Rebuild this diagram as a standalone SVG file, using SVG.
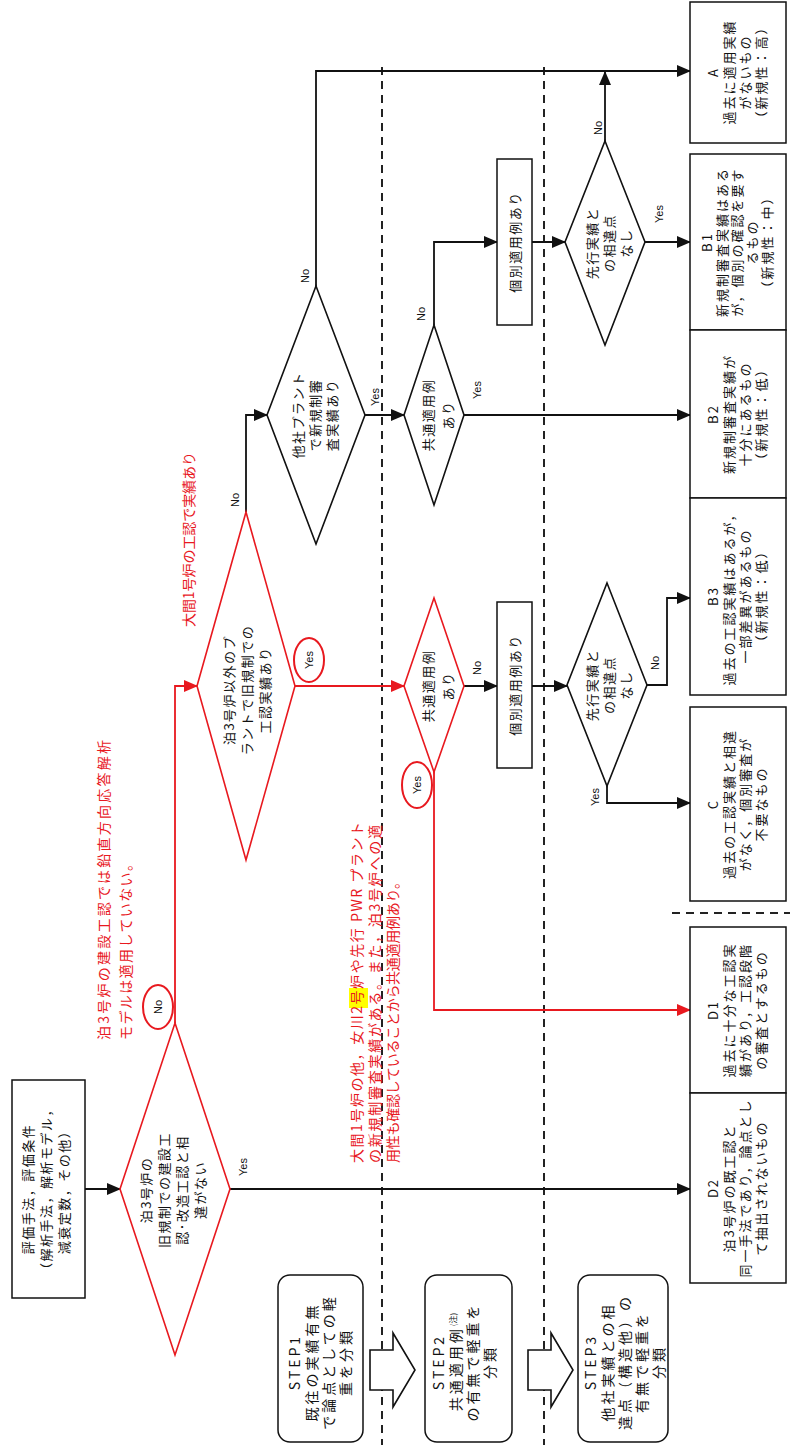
<svg xmlns="http://www.w3.org/2000/svg" width="790" height="1445" viewBox="0 0 790 1445">
<defs>
<marker id="ab" markerWidth="14" markerHeight="12" refX="13" refY="6" orient="auto" markerUnits="userSpaceOnUse"><path d="M0,0 L14,6 L0,12 z" fill="#111"/></marker>
<marker id="ar" markerWidth="14" markerHeight="12" refX="13" refY="6" orient="auto" markerUnits="userSpaceOnUse"><path d="M0,0 L14,6 L0,12 z" fill="#e8191f"/></marker>
<style>
.jp{font-family:"Noto Sans CJK JP","Noto Sans CJK SC",sans-serif;font-size:13px;fill:#111;text-anchor:middle;letter-spacing:2px}
.st{font-family:"Noto Sans CJK JP","Noto Sans CJK SC",sans-serif;font-size:14px;fill:#111;text-anchor:middle;letter-spacing:3px}
.ann{font-family:"Noto Sans CJK JP","Noto Sans CJK SC",sans-serif;font-size:14px;fill:#e8191f;text-anchor:start}
.yn{font-family:"Liberation Sans",Arial,sans-serif;font-size:11px;fill:#111;text-anchor:middle}
.box{fill:#fff;stroke:#111;stroke-width:1.5}
.dia{fill:#fff;stroke:#111;stroke-width:1.6}
.diar{fill:#fff;stroke:#e8191f;stroke-width:1.6}
.ln{fill:none;stroke:#111;stroke-width:1.8}
.lnr{fill:none;stroke:#e8191f;stroke-width:1.8}
.dash{fill:none;stroke:#222;stroke-width:2;stroke-dasharray:8,6}
.circ{fill:none;stroke:#e8191f;stroke-width:2}
.blk{fill:#fff;stroke:#111;stroke-width:1.6}
</style>
</defs>
<rect width="790" height="1445" fill="#fff"/>

<g id="guides">
<line class="dash" x1="382" y1="67" x2="382" y2="1445"/>
<line class="dash" x1="544" y1="67" x2="544" y2="1445"/>
<line class="dash" x1="672" y1="913" x2="790" y2="913"/>
</g>

<g id="connectors">
<line class="ln" x1="85" y1="1189" x2="120" y2="1189" marker-end="url(#ab)"/>
<line class="ln" x1="230" y1="1189" x2="690" y2="1189" marker-end="url(#ab)"/>
<polyline class="lnr" points="175,1023 175,686 197,686" marker-end="url(#ar)"/>
<line class="lnr" x1="295" y1="686" x2="404" y2="686" marker-end="url(#ar)"/>
<polyline class="ln" points="246,512 246,415 267,415" marker-end="url(#ab)"/>
<polyline class="ln" points="316,286 316,71 690,71" marker-end="url(#ab)"/>
<line class="ln" x1="365" y1="415" x2="404" y2="415" marker-end="url(#ab)"/>
<polyline class="ln" points="434,325 434,242 497,242" marker-end="url(#ab)"/>
<line class="ln" x1="464" y1="415" x2="690" y2="415" marker-end="url(#ab)"/>
<line class="ln" x1="532" y1="242" x2="565" y2="242" marker-end="url(#ab)"/>
<line class="ln" x1="605" y1="141" x2="605" y2="72" marker-end="url(#ab)"/>
<line class="ln" x1="645" y1="242" x2="690" y2="242" marker-end="url(#ab)"/>
<line class="ln" x1="464" y1="686" x2="497" y2="686" marker-end="url(#ab)"/>
<polyline class="lnr" points="434,772 434,1010 690,1010" marker-end="url(#ar)"/>
<line class="ln" x1="532" y1="686" x2="567" y2="686" marker-end="url(#ab)"/>
<polyline class="ln" points="647,685 667,685 667,598 690,598" marker-end="url(#ab)"/>
<polyline class="ln" points="607,786 607,803 690,803" marker-end="url(#ab)"/>
</g>

<g id="labels">
<text class="yn" transform="translate(243,1167) rotate(-90)" y="4">Yes</text>
<ellipse class="circ" cx="158" cy="1007" rx="15" ry="22"/>
<text class="yn" transform="translate(158,1007) rotate(-90)" y="4">No</text>
<text class="yn" transform="translate(235,500) rotate(-90)" y="4">No</text>
<ellipse class="circ" cx="309" cy="660" rx="15" ry="22"/>
<text class="yn" transform="translate(309,660) rotate(-90)" y="4">Yes</text>
<text class="yn" transform="translate(305,276) rotate(-90)" y="4">No</text>
<text class="yn" transform="translate(375,397) rotate(-90)" y="4">Yes</text>
<text class="yn" transform="translate(421,314) rotate(-90)" y="4">No</text>
<text class="yn" transform="translate(477,390) rotate(-90)" y="4">Yes</text>
<text class="yn" transform="translate(598,128) rotate(-90)" y="4">No</text>
<text class="yn" transform="translate(659,214) rotate(-90)" y="4">Yes</text>
<text class="yn" transform="translate(477,668) rotate(-90)" y="4">No</text>
<ellipse class="circ" cx="417" cy="785" rx="15" ry="23"/>
<text class="yn" transform="translate(417,785) rotate(-90)" y="4">Yes</text>
<text class="yn" transform="translate(655,663) rotate(-90)" y="4">No</text>
<text class="yn" transform="translate(595,797) rotate(-90)" y="4">Yes</text>
</g>

<g id="n_src">
<rect class="box" x="12" y="1080" width="73" height="218"/>
<text class="jp" transform="translate(47,1189) rotate(-90)" style="letter-spacing:1.5px"><tspan x="0" y="-14">評価手法，評価条件</tspan><tspan x="0" y="4">（解析手法，解析モデル，</tspan><tspan x="0" y="22">減衰定数，その他）</tspan></text>
</g>

<g id="n_d0">
<polygon class="diar" points="175,1023 230,1189 175,1355 120,1189"/>
<text class="jp" transform="translate(174,1190) rotate(-90)" style="letter-spacing:1.5px"><tspan x="0" y="-23">泊3号炉の</tspan><tspan x="0" y="-5">旧規制での建設工</tspan><tspan x="0" y="13">認･改造工認と相</tspan><tspan x="0" y="31">違がない</tspan></text>
</g>

<g id="n_d1">
<polygon class="diar" points="246,512 295,686 246,860 197,686"/>
<text class="jp" transform="translate(247,690) rotate(-90)" style="letter-spacing:1.5px"><tspan x="0" y="-13">泊3号炉以外のプ</tspan><tspan x="0" y="5">ラントで旧規制での</tspan><tspan x="0" y="23">工認実績あり</tspan></text>
</g>

<g id="n_d5">
<polygon class="dia" points="316,286 365,415 316,544 267,415"/>
<text class="jp" transform="translate(316,415) rotate(-90)" style="letter-spacing:1.5px"><tspan x="0" y="-13">他社プラント</tspan><tspan x="0" y="4">で新規制審</tspan><tspan x="0" y="21">査実績あり</tspan></text>
</g>

<g id="n_d6">
<polygon class="dia" points="434,325 464,415 434,505 404,415"/>
<text class="jp" transform="translate(434,415) rotate(-90)" style="letter-spacing:1.5px"><tspan x="0" y="-1">共通適用例</tspan><tspan x="0" y="19">あり</tspan></text>
</g>

<g id="n_p1">
<rect class="box" x="497" y="159" width="35" height="166"/>
<text class="jp" transform="translate(514.5,242) rotate(-90)" y="5" style="letter-spacing:1.5px">個別適用例あり</text>
</g>

<g id="n_d7">
<polygon class="dia" points="605,141 645,242 605,345 565,242"/>
<text class="jp" transform="translate(607,243) rotate(-90)" style="letter-spacing:1.5px"><tspan x="0" y="-10">先行実績と</tspan><tspan x="0" y="7">の相違点</tspan><tspan x="0" y="24">なし</tspan></text>
</g>

<g id="n_d3">
<polygon class="diar" points="434,598 464,686 434,772 404,686"/>
<text class="jp" transform="translate(434,686) rotate(-90)" style="letter-spacing:1.5px"><tspan x="0" y="-1">共通適用例</tspan><tspan x="0" y="19">あり</tspan></text>
</g>

<g id="n_p2">
<rect class="box" x="497" y="602" width="35" height="166"/>
<text class="jp" transform="translate(514.5,685) rotate(-90)" y="5" style="letter-spacing:1.5px">個別適用例あり</text>
</g>

<g id="n_d4">
<polygon class="dia" points="607,583 647,685 607,786 567,685"/>
<text class="jp" transform="translate(607,685) rotate(-90)" style="letter-spacing:1.5px"><tspan x="0" y="-10">先行実績と</tspan><tspan x="0" y="7">の相違点</tspan><tspan x="0" y="24">なし</tspan></text>
</g>

<g id="n_A">
<rect class="box" x="690" y="2" width="96" height="141"/>
<text class="jp" transform="translate(738,72) rotate(-90)"><tspan x="0" y="-20">A</tspan><tspan x="0" y="-4">過去に適用実績</tspan><tspan x="0" y="12">がないもの</tspan><tspan x="0" y="28">（新規性：高）</tspan></text>
</g>
<g id="n_B1">
<rect class="box" x="690" y="154" width="96" height="176"/>
<text class="jp" transform="translate(738,242) rotate(-90)"><tspan x="0" y="-26">B1</tspan><tspan x="0" y="-11">新規制審査実績はある</tspan><tspan x="0" y="4">が，個別の確認を要す</tspan><tspan x="0" y="19">るもの</tspan><tspan x="0" y="34">（新規性：中）</tspan></text>
</g>
<g id="n_B2">
<rect class="box" x="690" y="330" width="96" height="168"/>
<text class="jp" transform="translate(738,414) rotate(-90)"><tspan x="0" y="-20">B2</tspan><tspan x="0" y="-4">新規制審査実績が</tspan><tspan x="0" y="12">十分にあるもの</tspan><tspan x="0" y="28">（新規性：低）</tspan></text>
</g>
<g id="n_B3">
<rect class="box" x="690" y="498" width="96" height="197"/>
<text class="jp" transform="translate(738,596) rotate(-90)"><tspan x="0" y="-20">B3</tspan><tspan x="0" y="-4">過去の工認実績はあるが，</tspan><tspan x="0" y="12">一部差異があるもの</tspan><tspan x="0" y="28">（新規性：低）</tspan></text>
</g>
<g id="n_C">
<rect class="box" x="690" y="707" width="96" height="194"/>
<text class="jp" transform="translate(738,804) rotate(-90)"><tspan x="0" y="-20">C</tspan><tspan x="0" y="-4">過去の工認実績と相違</tspan><tspan x="0" y="12">がなく，個別審査が</tspan><tspan x="0" y="28">不要なもの</tspan></text>
</g>
<g id="n_D1">
<rect class="box" x="690" y="927" width="96" height="166"/>
<text class="jp" transform="translate(738,1010) rotate(-90)"><tspan x="0" y="-20">D1</tspan><tspan x="0" y="-4">過去に十分な工認実</tspan><tspan x="0" y="12">績があり，工認段階</tspan><tspan x="0" y="28">の審査とするもの</tspan></text>
</g>
<g id="n_D2">
<rect class="box" x="690" y="1093" width="96" height="190"/>
<text class="jp" transform="translate(738,1188) rotate(-90)"><tspan x="0" y="-20">D2</tspan><tspan x="0" y="-4">泊3号炉の既工認と</tspan><tspan x="0" y="12">同一手法であり，論点とし</tspan><tspan x="0" y="28">て抽出されないもの</tspan></text>
</g>

<g id="step1">
<rect class="box" x="278" y="1275" width="85" height="167" rx="12"/>
<text class="st" transform="translate(321,1362) rotate(-90)"><tspan x="0" y="-21">STEP1</tspan><tspan x="0" y="-4">既往の実績有無</tspan><tspan x="0" y="13">で論点としての軽</tspan><tspan x="0" y="30">重を分類</tspan></text>
</g>
<g id="arrow1">
<polygon class="blk" points="370,1350 393,1350 393,1333 415,1370 393,1407 393,1390 370,1390"/>
</g>
<g id="step2">
<rect class="box" x="425" y="1275" width="87" height="167" rx="12"/>
<text class="st" transform="translate(466,1362) rotate(-90)"><tspan x="0" y="-22">STEP2</tspan><tspan x="0" y="-5">共通適用例<tspan font-size="8" dy="-5" style="letter-spacing:0">(注)</tspan></tspan><tspan x="0" y="12">の有無で軽重を</tspan><tspan x="0" y="29">分類</tspan></text>
</g>
<g id="arrow2">
<polygon class="blk" points="528,1350 551,1350 551,1333 573,1370 551,1407 551,1390 528,1390"/>
</g>
<g id="step3">
<rect class="box" x="578" y="1275" width="90" height="167" rx="12"/>
<text class="st" transform="translate(626,1362) rotate(-90)"><tspan x="0" y="-30">STEP3</tspan><tspan x="0" y="-13">他社実績との相</tspan><tspan x="0" y="4">違点（構造他）の</tspan><tspan x="0" y="21">有無で軽重を</tspan><tspan x="0" y="38">分類</tspan></text>
</g>

<g id="notes">
<rect x="349" y="988" width="19" height="20" fill="#ffff00"/>
<text class="ann" transform="translate(105,1040) rotate(-90)" y="4" textLength="300" lengthAdjust="spacing">泊3号炉の建設工認では鉛直方向応答解析</text>
<text class="ann" transform="translate(127,1040) rotate(-90)" y="4" textLength="183" lengthAdjust="spacing">モデルは適用していない。</text>
<text class="ann" transform="translate(190,627) rotate(-90)" y="4" textLength="175" lengthAdjust="spacing">大間1号炉の工認で実績あり</text>
<text class="ann" transform="translate(358,1163) rotate(-90)" y="4" textLength="341" lengthAdjust="spacing">大間1号炉の他，女川2号炉や先行 PWR プラント</text>
<text class="ann" transform="translate(376,1163) rotate(-90)" y="4" textLength="338" lengthAdjust="spacing">の新規制審査実績がある。また，泊3号炉への適</text>
<text class="ann" transform="translate(394,1163) rotate(-90)" y="4" textLength="288" lengthAdjust="spacing">用性も確認していることから共通適用例あり。</text>
</g>
</svg>
